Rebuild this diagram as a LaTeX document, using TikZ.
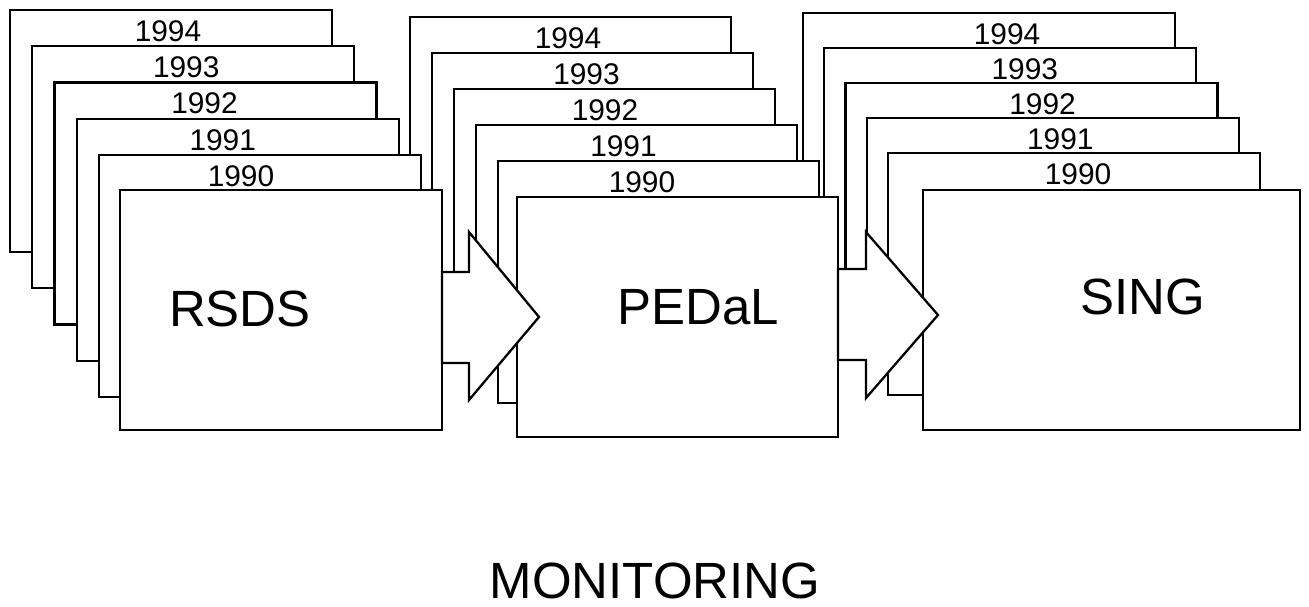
\documentclass[tikz,border=0pt]{standalone}
\usepackage{fontspec}
\setmainfont{Liberation Sans}
\usetikzlibrary{
    positioning,
    calc
}

\begin{document}
\begin{tikzpicture}[
    x=0.02cm, y=-0.02cm,
    sheet/.style={rectangle, draw=black, fill=white, line width=1.3pt, inner sep=0pt, outer sep=0pt,
                  anchor=north west, minimum width=#1, minimum height=4.84cm},
    front/.style={rectangle, draw=black, fill=white, line width=1.3pt, inner sep=0pt, outer sep=0pt,
                  anchor=north west, minimum width=#1, minimum height=4.8cm},
    year/.style={font=\fontsize{17}{19}\selectfont, inner sep=0pt},
    big/.style={font=\fontsize{29}{33}\selectfont, inner sep=0pt},
    blockarrow/.style={draw=black, fill=white, line width=1.3pt, line join=miter}
]
\useasboundingbox (0,0) rectangle (1309,607);

% ============================================
% SING (drawn first, lies behind)
% ============================================
\foreach \yr [count=\i from 0] in {1994,1993,1992,1991,1990} {
    \node[sheet=7.44cm] (s3-\i) at ({803+21.25*\i}, {13+35*\i}) {};
    \node[year] (y3-\i) at ($(s3-\i.north west)+({204-3.5*\i},21)$) {\yr};
}
\node[front=7.54cm] (sing) at (923, 190) {};
\node[big] (sing-l) at ($(sing.center)+(31,-13)$) {SING};

% ============================================
% PEDaL
% ============================================
\foreach \yr [count=\i from 0] in {1994,1993,1992,1991,1990} {
    \node[sheet=6.42cm] (s2-\i) at ({410+22*\i}, {17+36*\i}) {};
    \node[year] (y2-\i) at ($(s2-\i.north west)+({158-3.5*\i},21)$) {\yr};
}
\node[front=6.42cm] (pedal) at (517, 197) {};
\node[big] (pedal-l) at ($(pedal.center)+(21,-10)$) {PEDaL};

% ============================================
% RSDS (front group)
% ============================================
\foreach \yr [count=\i from 0] in {1994,1993,1992,1991,1990} {
    \node[sheet=6.44cm] (s1-\i) at ({10+22.25*\i}, {10+36.25*\i}) {};
    \node[year] (y1-\i) at ($(s1-\i.north west)+({158-4*\i},21)$) {\yr};
}
\node[front=6.44cm] (rsds) at (120, 190) {};
\node[big] (rsds-l) at ($(rsds.center)+(-41,-1)$) {RSDS};

% ============================================
% Block arrows between the stacks
% ============================================
\coordinate (tip1) at (539, 317);
\coordinate (tip2) at (938, 315);

\draw[blockarrow] ($(rsds.east)+(0,-38)$) -- ++(27,0) -- ++(0,-40) -- (tip1)
    -- ++(-70,83) -- ++(0,-37) -- ($(rsds.east)+(0,53)$) -- cycle;
\draw[blockarrow] ($(pedal.east)+(0,-48)$) -- ++(28,0) -- ++(0,-37) -- (tip2)
    -- ++(-72,83) -- ++(0,-38) -- ($(pedal.east)+(0,43)$) -- cycle;

% Title below
\node[big] (title) at (655, 581) {MONITORING};

\end{tikzpicture}
\end{document}
